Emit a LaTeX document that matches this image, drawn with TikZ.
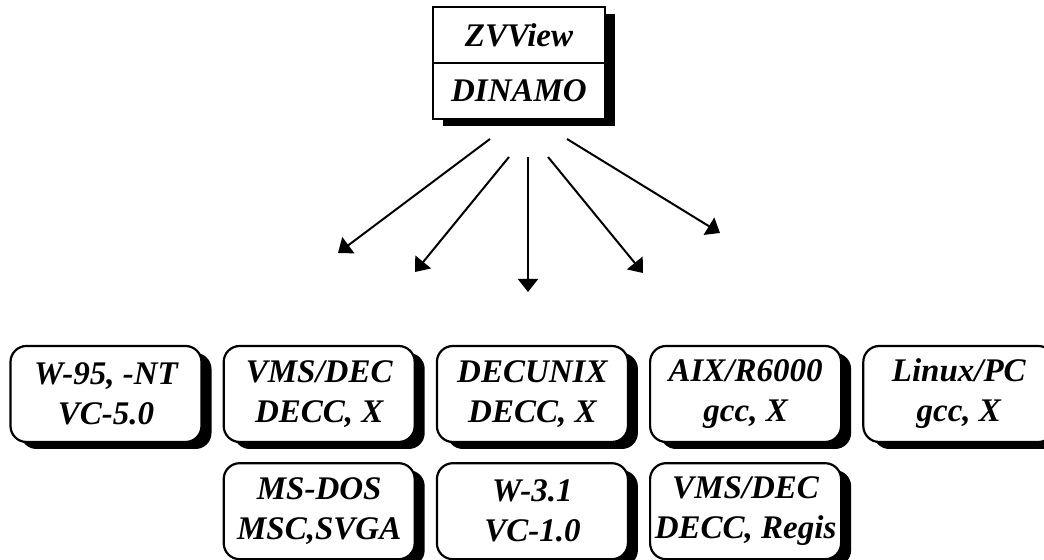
\documentclass[tikz,border=0pt]{standalone}
\usepackage{fontspec}
\setmainfont{Liberation Serif}
\usetikzlibrary{arrows.meta,positioning,shadows}
\newcommand{\boxfont}{\fontsize{16.5}{20}\selectfont\bfseries\itshape}
\newcommand{\thick}{1.1pt}

\begin{document}
\begin{tikzpicture}[x=0.5pt,y=0.5pt]
        \tikzset{
            blackshadow/.style = {drop shadow = {shadow xshift = 5pt, shadow yshift = -3.5pt, fill = black, opacity = 1}},
            headbox/.style = {draw, fill = white, line width = \thick, outer sep = 0pt, minimum width = 86pt, minimum height = 28pt, font = \boxfont, blackshadow},
            osbox/.style = {draw, fill = white, line width = \thick, rounded corners = 8pt, minimum width = 95.5pt, minimum height = 48pt, inner xsep = 1pt, align = center, font = \boxfont, blackshadow},
            flow/.style = {line width = 1pt, -{Triangle[length = 6.5pt, width = 10pt]}}
        }
        \useasboundingbox (0,0) rectangle (1044,560);
        %\draw[help lines] (0,0) grid[step=20pt] (1044,560);
        \node[headbox] (zv) at (519,525) {ZVView};
        \node[headbox, below = 0pt of zv] (din) {DINAMO};

        \node[osbox] (w95) at (106,166) {W-95, -NT\\VC-5.0};
        \node[osbox, right = 10pt of w95] (vms) {VMS/DEC\\DECC, X};
        \node[osbox, right = 10pt of vms] (decunix) {DECUNIX\\DECC, X};
        \node[osbox, right = 10pt of decunix] (aix) {AIX/R6000\\gcc, X};
        \node[osbox, right = 10pt of aix] (linux) {Linux/PC\\gcc, X};
        \node[osbox, below = 9.5pt of vms] (msdos) {MS-DOS\\MSC,SVGA};
        \node[osbox, below = 9.5pt of decunix] (w31) {W-3.1\\VC-1.0};
        \node[osbox, below = 9.5pt of aix] (regis) {VMS/DEC\\DECC, Regis};

        \coordinate (s1) at (490,421); \coordinate (t1) at (338,307);
        \coordinate (s2) at (509,403); \coordinate (t2) at (415,288);
        \coordinate (s3) at (528,403); \coordinate (t3) at (528,268);
        \coordinate (s4) at (548,403); \coordinate (t4) at (643,287);
        \coordinate (s5) at (567,421); \coordinate (t5) at (720,327);
        \foreach \i in {1,...,5}
            \draw[flow] (s\i) -- (t\i);
    \end{tikzpicture}
\end{document}
